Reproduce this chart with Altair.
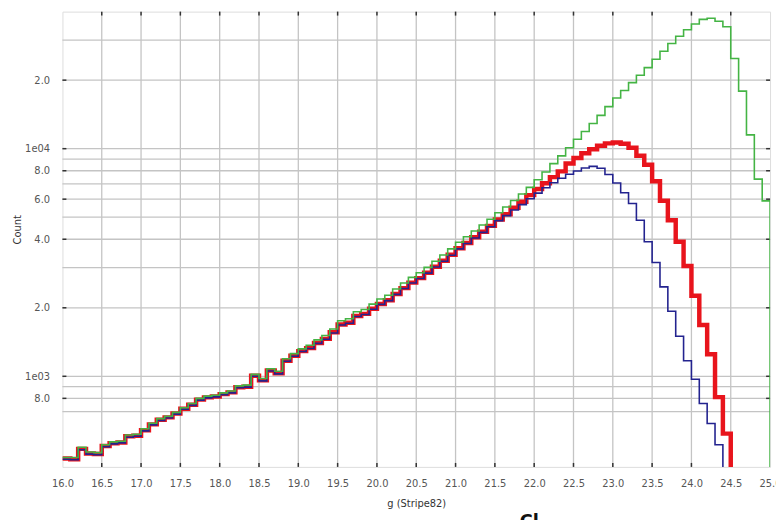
import altair as alt
import pandas as pd

# ---- data (counts per 0.1 mag bin, starting at g = 16.0) ----
red_counts = [435, 432, 480, 458, 456, 494, 508, 512, 545, 548,
              580, 615, 645, 660, 686, 720, 750, 790, 808, 815,
              835, 850, 895, 900, 1005, 960, 1060, 1030, 1170, 1230,
              1290, 1330, 1400, 1460, 1560, 1690, 1720, 1840, 1880, 1980,
              2080, 2160, 2300, 2440, 2580, 2700, 2850, 3030, 3220, 3420,
              3650, 3850, 4080, 4320, 4580, 4880, 5150, 5500, 5850, 6250,
              6650, 7050, 7500, 7950, 8600, 9100, 9550, 9950, 10300, 10550,
              10650, 10500, 10100, 9300, 8500, 7200, 5900, 4850, 3900, 3050,
              2260, 1680, 1250, 810, 560]
blue_counts = [432, 430, 476, 455, 452, 490, 505, 510, 540, 545,
               576, 612, 640, 656, 682, 716, 745, 786, 804, 812,
               830, 846, 890, 896, 1000, 955, 1055, 1025, 1165, 1225,
               1285, 1325, 1395, 1455, 1550, 1680, 1710, 1830, 1870, 1970,
               2070, 2150, 2290, 2430, 2570, 2690, 2840, 3020, 3200, 3400,
               3630, 3830, 4050, 4290, 4540, 4830, 5080, 5380, 5680, 6030,
               6380, 6730, 7080, 7420, 7720, 7980, 8230, 8360, 8200, 7700,
               7070, 6400, 5740, 4850, 3900, 3160, 2470, 1930, 1500, 1170,
               970, 760, 620, 500, 380]
green_counts = [440, 440, 488, 465, 462, 500, 515, 518, 552, 556,
                588, 622, 652, 668, 694, 728, 760, 800, 818, 826,
                846, 862, 908, 915, 1020, 978, 1080, 1052, 1195, 1258,
                1320, 1368, 1445, 1510, 1615, 1755, 1790, 1920, 1965, 2075,
                2185, 2270, 2420, 2570, 2720, 2850, 3010, 3200, 3410, 3630,
                3880, 4100, 4350, 4620, 4900, 5230, 5540, 5920, 6320, 6760,
                7300, 7900, 8600, 9300, 10100, 11000, 11900, 12900, 14000, 15300,
                16700, 18000, 19500, 21000, 22700, 24700, 26800, 29000, 31200, 33300,
                35300, 37000, 37400, 36300, 34300, 24900, 17900, 11500, 7350, 5900]

x_ticks = [16.0, 16.5, 17.0, 17.5, 18.0, 18.5, 19.0, 19.5, 20.0, 20.5,
           21.0, 21.5, 22.0, 22.5, 23.0, 23.5, 24.0, 24.5, 25.0]
x_grid = x_ticks[1:-1]
y_label_values = [800, 1000, 2000, 4000, 6000, 8000, 10000, 20000]
y_grid = [700, 800, 900, 1000, 2000, 3000, 4000, 5000, 6000, 7000,
          8000, 9000, 10000, 20000, 30000]

W, H = 715, 460


def steps(vals, end_x, end_y, name):
    rows = [{"g": round(16.0 + 0.1 * i, 1), "count": v, "series": name}
            for i, v in enumerate(vals)]
    rows.append({"g": end_x, "count": end_y, "series": name})
    return pd.DataFrame(rows)


xscale = alt.Scale(domain=[16, 25], nice=False, zero=False)
yscale = alt.Scale(type="log", domain=[400, 40000], nice=False)

xaxis = alt.Axis(values=x_ticks, format=".1f", grid=False, ticks=False,
                 domain=False, labelPadding=12, labelFontSize=10,
                 labelColor="#555555", labelFont="DejaVu Sans",
                 title="g (Stripe82)", titleFontSize=10,
                 titleFontWeight="normal", titleColor="#333333",
                 titleFont="DejaVu Sans", titleY=32, labelFlush=False)
yaxis = alt.Axis(values=y_label_values,
                 labelExpr="datum.value == 1000 ? '1e03' : datum.value == 10000 ? '1e04' : "
                           "format(datum.value / pow(10, floor(log(datum.value) / LN10 + 1e-9)), '.1f')",
                 grid=False, ticks=False, domain=False, labelPadding=13,
                 labelFontSize=10, labelColor="#555555", labelFont="DejaVu Sans",
                 title="Count", titleFontSize=10, titleFontWeight="normal",
                 titleColor="#333333", titleFont="DejaVu Sans",
                 titleX=-40, titleY=220)

red_df = steps(red_counts, 24.5, 300, "red")
blue_df = steps(blue_counts, 24.5, 300, "blue")
green_df = steps(green_counts, 25.0, 300, "green")

XF = lambda f: alt.X(f, scale=xscale, axis=xaxis)
YF = lambda f: alt.Y(f, scale=yscale, axis=yaxis)


def line_layer(df, color, width):
    return alt.Chart(df).mark_line(
        interpolate="step-after", clip=True, color=color, strokeWidth=width
    ).encode(x=XF("g:Q"), y=YF("count:Q"))


vgrid = alt.Chart(pd.DataFrame({"v": x_grid})).mark_rule(
    color="#c4c4c4", strokeWidth=1.3
).encode(x=XF("v:Q"), y=alt.value(0), y2=alt.value(H))
hgrid = alt.Chart(pd.DataFrame({"v": y_grid})).mark_rule(
    color="#c4c4c4", strokeWidth=1.3
).encode(y=YF("v:Q"), x=alt.value(0), x2=alt.value(W))

tick_color = "#333333"
xt_bottom = alt.Chart(pd.DataFrame({"v": x_grid})).mark_rule(
    color=tick_color, strokeWidth=1.5
).encode(x=XF("v:Q"), y=alt.value(H - 4), y2=alt.value(H))
xt_top = alt.Chart(pd.DataFrame({"v": x_grid})).mark_rule(
    color=tick_color, strokeWidth=1.5
).encode(x=XF("v:Q"), y=alt.value(0), y2=alt.value(4))
yt_left = alt.Chart(pd.DataFrame({"v": y_label_values})).mark_rule(
    color=tick_color, strokeWidth=1.5
).encode(y=YF("v:Q"), x=alt.value(0), x2=alt.value(4))
yt_right = alt.Chart(pd.DataFrame({"v": y_label_values})).mark_rule(
    color=tick_color, strokeWidth=1.5
).encode(y=YF("v:Q"), x=alt.value(W - 4), x2=alt.value(W))

cut_title = alt.Chart(pd.DataFrame({"t": ["Cl"]})).mark_text(
    align="left", baseline="top", fontSize=18, fontWeight="bold",
    color="#111111", font="DejaVu Sans"
).encode(text="t:N", x=alt.value(462), y=alt.value(507))

chart = alt.layer(
    vgrid, hgrid, xt_bottom, xt_top, yt_left, yt_right,
    line_layer(red_df, "#e8141c", 4.5),
    line_layer(blue_df, "#23238f", 1.6),
    line_layer(green_df, "#44b444", 1.6),
    cut_title,
).properties(
    width=W, height=H,
    autosize=alt.AutoSizeParams(type="none"),
    padding={"left": 55, "top": 1, "right": 6, "bottom": 51},
).configure_view(stroke="#222222", strokeWidth=2.5
).configure(background="white")

chart.save("out.html", embed_options={"renderer": "svg", "actions": False})
